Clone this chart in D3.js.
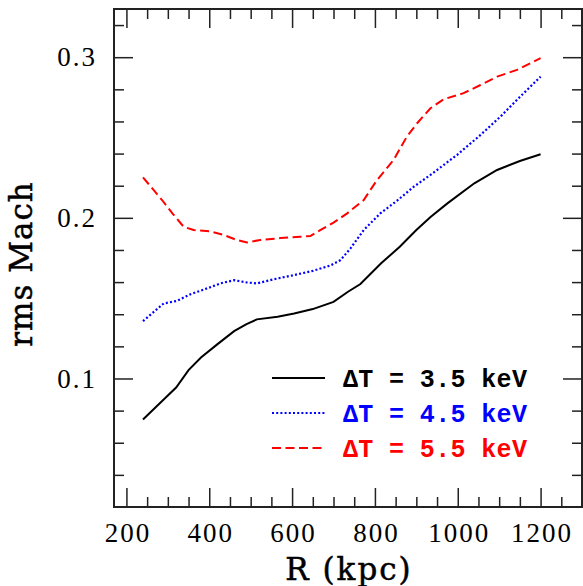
<!DOCTYPE html>
<html>
<head>
<meta charset="utf-8">
<script src="https://cdn.jsdelivr.net/npm/d3@7"></script>
<style>
  html, body { margin: 0; padding: 0; background: #fff; }
</style>
</head>
<body>
<svg id="chart" width="583" height="586"></svg>
<script>
// values
const r35R = [240, 290, 320, 350, 380, 420, 460, 490, 515, 565, 605, 650, 700, 735, 765, 815, 860, 900, 935, 975, 1040, 1095, 1150, 1200];
const r35V = [0.0745, 0.0869, 0.0944, 0.1052, 0.1131, 0.1214, 0.1295, 0.1338, 0.1368, 0.1384, 0.1405, 0.1432, 0.1477, 0.1540, 0.1588, 0.1717, 0.1820, 0.1924, 0.2007, 0.2090, 0.2215, 0.2298, 0.2354, 0.2396];

const r45R = [240, 290, 322, 355, 395, 427, 460, 490, 515, 555, 605, 650, 692, 717, 741, 773, 813, 855, 894, 934, 998, 1055, 1103, 1151, 1200];
const r45V = [0.1357, 0.1467, 0.1483, 0.1525, 0.1561, 0.1592, 0.1612, 0.1598, 0.1592, 0.1617, 0.1644, 0.1670, 0.1703, 0.1737, 0.1810, 0.1924, 0.2028, 0.2110, 0.2194, 0.2267, 0.2391, 0.2516, 0.2630, 0.2755, 0.2879];

const r55R = [240, 286, 311, 338, 362, 403, 435, 467, 491, 523, 572, 620, 644, 668, 700, 733, 773, 805, 845, 877, 902, 934, 966, 1014, 1055, 1095, 1143, 1200];
const r55V = [0.2252, 0.2111, 0.2028, 0.1945, 0.1924, 0.1916, 0.1893, 0.1862, 0.1847, 0.1862, 0.1874, 0.1882, 0.1887, 0.1924, 0.1970, 0.2028, 0.2111, 0.2235, 0.2360, 0.2505, 0.2589, 0.2682, 0.2738, 0.2776, 0.2827, 0.2879, 0.2921, 0.2994];

const seriesNames = ['\u0394T = 3.5 keV', '\u0394T = 4.5 keV', '\u0394T = 5.5 keV'];
const seriesColors = ['#000000', '#0000ff', '#ff0000'];
const seriesDash = [null, '2,2.2', '9,4.5'];

const xTicks = [200, 400, 600, 800, 1000, 1200];
const yTicks = [0.1, 0.2, 0.3];
const xLabel = 'R (kpc)';
const yLabel = 'rms Mach';

const svg = d3.select('#chart');
const mLeft = 114, mRight = 582, mTop = 9, mBottom = 507;
const AXIS_COLOR = '#222';
const TICK_FONT = 'Liberation Serif';
const TITLE_FONT = 'DejaVu Serif';

const x = d3.scaleLinear().domain([170, 1300]).range([mLeft, mRight]);
const y = d3.scaleLinear().domain([0.02, 0.33]).range([mBottom, mTop]);

const xMinor = d3.range(200, 1300, 50).filter(v => v % 200 !== 0);
const yMinor = d3.range(2, 33, 2).map(v => v / 100).filter(v => Math.round(v * 100) % 10 !== 0 && v > 0.021);

svg.append('rect').attr('width', 583).attr('height', 586).attr('fill', '#fff');

function styleAxis(g) {
  g.select('.domain').remove();
  g.selectAll('.tick line').attr('stroke', AXIS_COLOR).attr('stroke-width', 1.5);
  g.selectAll('.tick text')
    .attr('fill', '#000')
    .attr('font-family', TICK_FONT)
    .attr('font-size', 27)
    .attr('letter-spacing', 2);
}

// bottom
svg.append('g').attr('transform', `translate(0,${mBottom})`)
  .call(d3.axisBottom(x).tickValues(xTicks).tickSizeInner(-19).tickSizeOuter(0).tickPadding(16).tickFormat(d3.format('d')))
  .call(styleAxis)
  .selectAll('.tick text').attr('dx', 1);
svg.append('g').attr('transform', `translate(0,${mBottom})`)
  .call(d3.axisBottom(x).tickValues(xMinor).tickSizeInner(-10).tickSizeOuter(0).tickFormat(''))
  .call(styleAxis);
// top
svg.append('g').attr('transform', `translate(0,${mTop})`)
  .call(d3.axisTop(x).tickValues(xTicks).tickSizeInner(-19).tickSizeOuter(0).tickFormat(''))
  .call(styleAxis);
svg.append('g').attr('transform', `translate(0,${mTop})`)
  .call(d3.axisTop(x).tickValues(xMinor).tickSizeInner(-10).tickSizeOuter(0).tickFormat(''))
  .call(styleAxis);
// left
svg.append('g').attr('transform', `translate(${mLeft},0)`)
  .call(d3.axisLeft(y).tickValues(yTicks).tickSizeInner(-19).tickSizeOuter(0).tickPadding(17).tickFormat(d3.format('.1f')))
  .call(styleAxis);
svg.append('g').attr('transform', `translate(${mLeft},0)`)
  .call(d3.axisLeft(y).tickValues(yMinor).tickSizeInner(-10).tickSizeOuter(0).tickFormat(''))
  .call(styleAxis);
// right
svg.append('g').attr('transform', `translate(${mRight},0)`)
  .call(d3.axisRight(y).tickValues(yTicks).tickSizeInner(-19).tickSizeOuter(0).tickFormat(''))
  .call(styleAxis);
svg.append('g').attr('transform', `translate(${mRight},0)`)
  .call(d3.axisRight(y).tickValues(yMinor).tickSizeInner(-10).tickSizeOuter(0).tickFormat(''))
  .call(styleAxis);

// frame
svg.append('rect')
  .attr('x', mLeft).attr('y', mTop)
  .attr('width', mRight - mLeft).attr('height', mBottom - mTop)
  .attr('fill', 'none').attr('stroke', AXIS_COLOR).attr('stroke-width', 2);

// curves
const line = d3.line().x(d => x(d[0])).y(d => y(d[1]));
const series = [
  d3.zip(r35R, r35V),
  d3.zip(r45R, r45V),
  d3.zip(r55R, r55V)
];

series.forEach((pts, i) => {
  svg.append('path')
    .datum(pts)
    .attr('d', line)
    .attr('fill', 'none')
    .attr('stroke', seriesColors[i])
    .attr('stroke-width', i === 1 ? 2.2 : 2)
    .attr('stroke-dasharray', seriesDash[i]);
});

// legend
const legendY = [378, 413, 448];
const lg = svg.append('g');
seriesNames.forEach((name, i) => {
  lg.append('line')
    .attr('x1', 272).attr('x2', 325)
    .attr('y1', legendY[i]).attr('y2', legendY[i])
    .attr('stroke', seriesColors[i])
    .attr('stroke-width', i === 1 ? 2.2 : 2)
    .attr('stroke-dasharray', seriesDash[i]);
  lg.append('text')
    .attr('x', 343).attr('y', legendY[i] + 8.5)
    .attr('fill', seriesColors[i])
    .attr('font-family', 'Liberation Mono')
    .attr('font-weight', 'bold')
    .attr('font-size', 25)
    .attr('textLength', 184)
    .text(name);
});

// axis titles
svg.append('text')
  .attr('x', 349).attr('y', 580)
  .attr('text-anchor', 'middle')
  .attr('font-family', TITLE_FONT)
  .attr('font-size', 31)
  .attr('letter-spacing', 2)
  .attr('stroke', '#000').attr('stroke-width', 0.5)
  .text(xLabel);

svg.append('text')
  .attr('transform', 'translate(32,264) rotate(-90)')
  .attr('text-anchor', 'middle')
  .attr('font-family', TITLE_FONT)
  .attr('font-size', 31)
  .attr('letter-spacing', 1)
  .attr('stroke', '#000').attr('stroke-width', 0.5)
  .text(yLabel);
</script>
</body>
</html>
